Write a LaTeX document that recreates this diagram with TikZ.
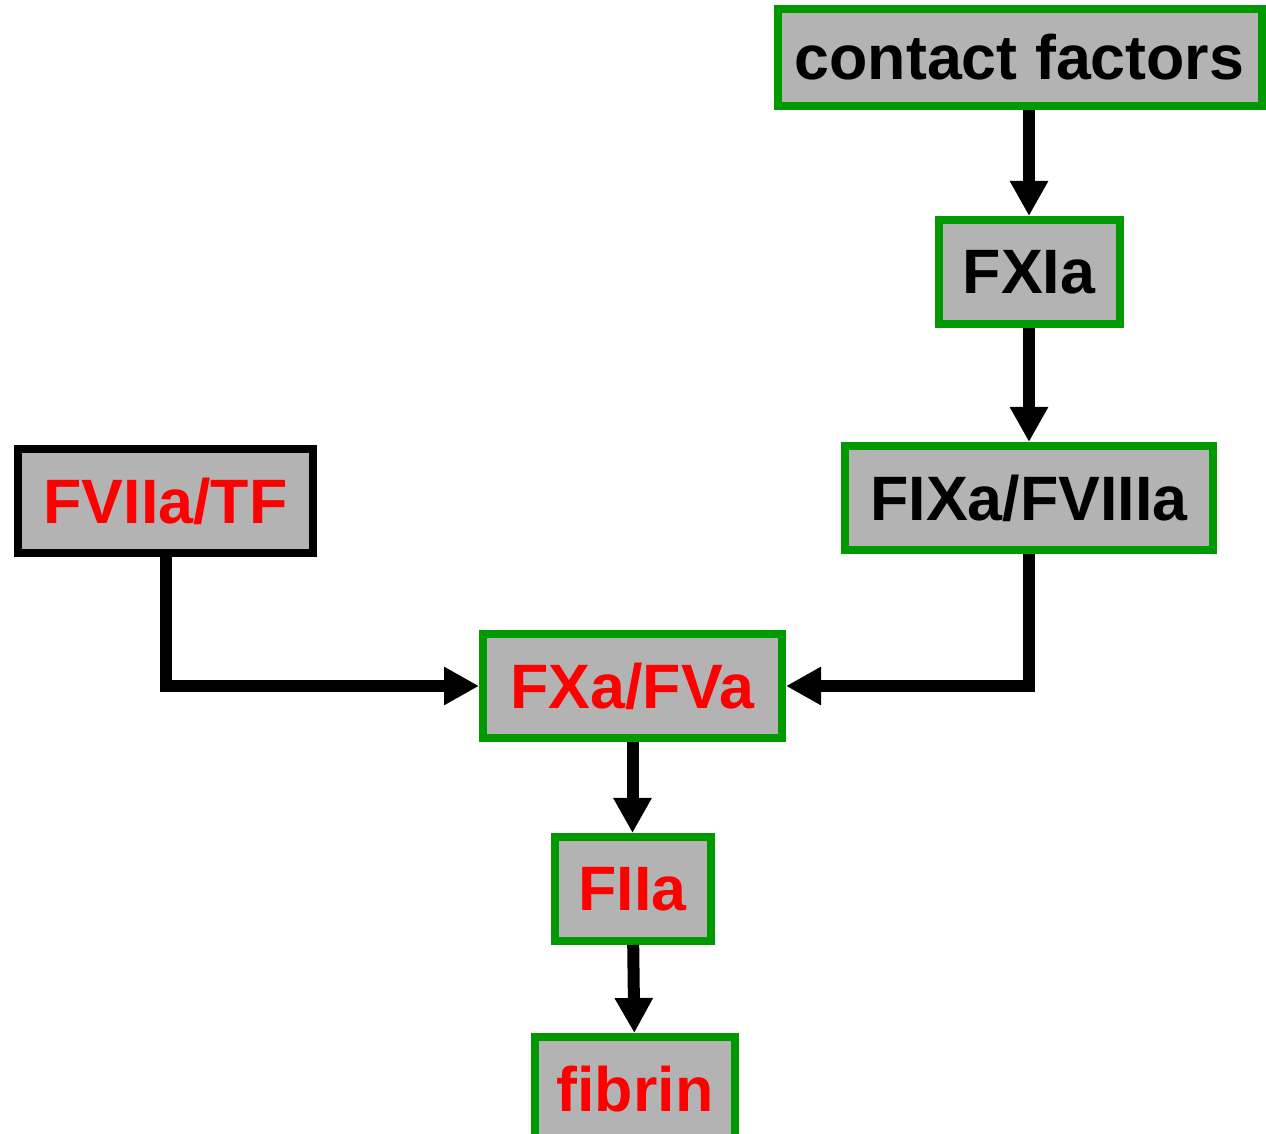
\documentclass[tikz,border=0pt]{standalone}
\usepackage{fontspec}
\setmainfont{Liberation Sans}
\usetikzlibrary{positioning, arrows.meta}
\definecolor{boxgreen}{RGB}{0,153,0}
\definecolor{boxgray}{RGB}{179,179,179}
\definecolor{factorred}{RGB}{255,0,0}
\tikzset{
  box/.style={draw=boxgreen, fill=boxgray, line width=0.16cm, text=black,
    font=\fontsize{35.7pt}{40pt}\selectfont\bfseries, minimum height=2.08cm, inner sep=0.1cm},
  redbox/.style={box, text=factorred},
  conn/.style={draw=black, line width=0.24cm, -{Triangle[width=0.72cm, length=0.7cm]}}
}
\begin{document}
\begin{tikzpicture}
  \useasboundingbox (0,0) rectangle (25.32,22.66);
  % Nodes
  \node (fxa) [redbox, minimum width=5.98cm] at (12.65,8.94) {FXa/FVa};
  \node (fiia) [redbox, below=1.82cm of fxa, minimum width=3.12cm] {FIIa};
  \node (fibrin) [redbox, below=1.76cm of fiia, xshift=0.05cm, minimum width=4cm] {fibrin};
  \node (fviia) [redbox, draw=black, minimum width=5.9cm] at (3.31,12.64) {FVIIa/TF};
  \node (fixa) [box, minimum width=7.36cm] at (20.58,12.70) {FIXa/FVIIIa};
  \node (fxia) [box, above=2.28cm of fixa, minimum width=3.62cm] {FXIa};
  \node (cf) [box, above=2.12cm of fxia, xshift=-0.19cm, minimum width=9.68cm, minimum height=1.94cm] {contact factors};

  \draw[conn] (cf.south -| fxia) -- (fxia);
  \draw[conn] (fxia) -- (fixa);
  \draw[conn] (fviia) |- (fxa);
  \draw[conn] (fixa) |- (fxa);
  \draw[conn] (fxa) -- (fiia);
  \draw[conn] (fiia) -- (fibrin);
\end{tikzpicture}
\end{document}
